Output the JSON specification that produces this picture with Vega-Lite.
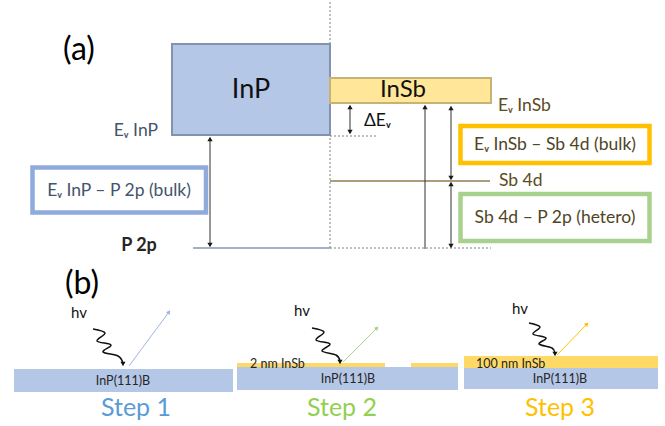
{
  "$schema": "https://vega.github.io/schema/vega-lite/v6.json",
  "width": 665,
  "height": 426,
  "autosize": {"type": "fit", "contains": "padding"},
  "padding": 0,
  "background": "white",
  "config": {"view": {"stroke": null}, "text": {"font": "Lato"}},
  "datasets": {
    "bandInP": [{"x": 172, "x2": 330, "y": 44, "y2": 135}],
    "bandInSb": [{"x": 330, "x2": 491, "y": 78, "y2": 103}],
    "boxBulkInP": [{"x": 32.5, "x2": 206, "y": 167.5, "y2": 212.5}],
    "boxBulkInSb": [{"x": 460.5, "x2": 649.5, "y": 126, "y2": 163}],
    "boxHetero": [{"x": 460.5, "x2": 649.5, "y": 194, "y2": 241}],
    "dotted": [
      {"x": 330, "x2": 330, "y": 2, "y2": 250},
      {"x": 330, "x2": 378, "y": 136, "y2": 136},
      {"x": 330, "x2": 491, "y": 248, "y2": 248}
    ],
    "levelP2p": [{"x": 193, "x2": 330, "y": 248, "y2": 248}],
    "levelSb4d": [{"x": 330, "x2": 490, "y": 181, "y2": 181}],
    "shafts": [
      {"x": 210, "x2": 210, "y": 138, "y2": 246},
      {"x": 350, "x2": 350, "y": 106, "y2": 133},
      {"x": 425, "x2": 425, "y": 106, "y2": 249},
      {"x": 451, "x2": 451, "y": 107, "y2": 179},
      {"x": 451, "x2": 451, "y": 183, "y2": 247}
    ],
    "headsUp": [
      {"x": 210, "y": 139},
      {"x": 350, "y": 107},
      {"x": 425, "y": 107},
      {"x": 451, "y": 108},
      {"x": 451, "y": 184}
    ],
    "headsDown": [
      {"x": 210, "y": 245},
      {"x": 350, "y": 132},
      {"x": 451, "y": 178},
      {"x": 451, "y": 246}
    ],
    "substrate": [
      {"x": 14, "x2": 233, "y": 369, "y2": 392},
      {"x": 237, "x2": 458, "y": 367, "y2": 390},
      {"x": 464, "x2": 658, "y": 368, "y2": 389}
    ],
    "film": [
      {"x": 237, "x2": 385, "y": 363, "y2": 367},
      {"x": 411, "x2": 458, "y": 363, "y2": 367},
      {"x": 464, "x2": 658, "y": 356, "y2": 368}
    ],
    "photon": [
      {"step": "Step 1", "i": 0, "x": 93, "y": 329},
      {"step": "Step 1", "i": 1, "x": 105, "y": 333},
      {"step": "Step 1", "i": 2, "x": 97, "y": 341},
      {"step": "Step 1", "i": 3, "x": 111, "y": 345},
      {"step": "Step 1", "i": 4, "x": 103, "y": 352},
      {"step": "Step 1", "i": 5, "x": 118, "y": 356},
      {"step": "Step 1", "i": 6, "x": 123, "y": 363},
      {"step": "Step 2", "i": 0, "x": 312, "y": 328},
      {"step": "Step 2", "i": 1, "x": 324, "y": 332},
      {"step": "Step 2", "i": 2, "x": 316, "y": 340},
      {"step": "Step 2", "i": 3, "x": 330, "y": 344},
      {"step": "Step 2", "i": 4, "x": 322, "y": 351},
      {"step": "Step 2", "i": 5, "x": 336, "y": 355},
      {"step": "Step 2", "i": 6, "x": 340, "y": 361},
      {"step": "Step 3", "i": 0, "x": 529, "y": 323},
      {"step": "Step 3", "i": 1, "x": 540, "y": 327},
      {"step": "Step 3", "i": 2, "x": 533, "y": 334},
      {"step": "Step 3", "i": 3, "x": 546, "y": 338},
      {"step": "Step 3", "i": 4, "x": 539, "y": 344},
      {"step": "Step 3", "i": 5, "x": 552, "y": 348},
      {"step": "Step 3", "i": 6, "x": 555, "y": 353}
    ],
    "photonTips": [
      {"x": 123, "y": 364},
      {"x": 340, "y": 362},
      {"x": 555, "y": 354}
    ],
    "electron": [
      {"step": "Step 1", "x": 129, "x2": 169, "y": 366, "y2": 312},
      {"step": "Step 2", "x": 343, "x2": 377, "y": 362, "y2": 328},
      {"step": "Step 3", "x": 557, "x2": 587, "y": 355, "y2": 324}
    ],
    "electronTips": [
      {"step": "Step 1", "x": 169, "y": 312, "dir": 36},
      {"step": "Step 2", "x": 377, "y": 328, "dir": 44},
      {"step": "Step 3", "x": 587, "y": 324, "dir": 44}
    ],
    "panelLabels": [
      {"x": 79, "y": 50, "t": "(a)"},
      {"x": 82, "y": 284, "t": "(b)"}
    ],
    "inpLabel": [{"x": 251, "y": 90, "t": "InP"}],
    "insbLabel": [{"x": 403, "y": 90, "t": "InSb"}],
    "evInP": [{"x": 158, "y": 131, "t": "Eᵥ InP"}],
    "bulkInPText": [{"x": 119, "y": 191, "t": "Eᵥ InP – P 2p (bulk)"}],
    "p2pLabel": [{"x": 139, "y": 246, "t": "P 2p"}],
    "deltaEv": [{"x": 364, "y": 121, "t": "ΔEᵥ"}],
    "insbSideLabels": [
      {"x": 498, "y": 106, "t": "Eᵥ InSb"},
      {"x": 499, "y": 181, "t": "Sb 4d"}
    ],
    "boxTexts": [
      {"x": 555, "y": 145, "t": "Eᵥ InSb – Sb 4d (bulk)"},
      {"x": 555, "y": 218, "t": "Sb 4d – P 2p (hetero)"}
    ],
    "hv": [
      {"x": 79, "y": 313, "t": "hv"},
      {"x": 302, "y": 311, "t": "hv"},
      {"x": 520, "y": 309, "t": "hv"}
    ],
    "substrateText": [
      {"x": 123, "y": 381, "t": "InP(111)B"},
      {"x": 348, "y": 379, "t": "InP(111)B"},
      {"x": 560, "y": 379, "t": "InP(111)B"}
    ],
    "filmText": [
      {"x": 250, "y": 364, "t": "2 nm InSb"},
      {"x": 476, "y": 364, "t": "100 nm InSb"}
    ],
    "stepText": [
      {"step": "Step 1", "x": 136, "y": 408, "t": "Step 1"},
      {"step": "Step 2", "x": 342, "y": 408, "t": "Step 2"},
      {"step": "Step 3", "x": 560, "y": 408, "t": "Step 3"}
    ]
  },
  "encoding": {
    "x": {"field": "x", "type": "quantitative", "scale": {"domain": [0, 665], "nice": false, "zero": false}, "axis": null},
    "y": {"field": "y", "type": "quantitative", "scale": {"domain": [0, 426], "reverse": true, "nice": false, "zero": false}, "axis": null}
  },
  "resolve": {"scale": {"color": "independent"}},
  "layer": [
    {"data": {"name": "dotted"}, "mark": {"type": "rule", "color": "#7f7f7f", "strokeWidth": 1, "strokeDash": [2, 2]},
     "encoding": {"x2": {"field": "x2"}, "y2": {"field": "y2"}}},
    {"data": {"name": "levelP2p"}, "mark": {"type": "rule", "color": "#8497b0", "strokeWidth": 1.5},
     "encoding": {"x2": {"field": "x2"}, "y2": {"field": "y2"}}},
    {"data": {"name": "levelSb4d"}, "mark": {"type": "rule", "color": "#a99d7d", "strokeWidth": 2},
     "encoding": {"x2": {"field": "x2"}, "y2": {"field": "y2"}}},
    {"data": {"name": "bandInP"}, "mark": {"type": "rect", "fill": "#b4c7e7", "stroke": "#8393ad", "strokeWidth": 2},
     "encoding": {"x2": {"field": "x2"}, "y2": {"field": "y2"}}},
    {"data": {"name": "bandInSb"}, "mark": {"type": "rect", "fill": "#ffe699", "stroke": "#c6b475", "strokeWidth": 2},
     "encoding": {"x2": {"field": "x2"}, "y2": {"field": "y2"}}},
    {"data": {"name": "boxBulkInP"}, "mark": {"type": "rect", "fill": "white", "stroke": "#8faadc", "strokeWidth": 4.5},
     "encoding": {"x2": {"field": "x2"}, "y2": {"field": "y2"}}},
    {"data": {"name": "boxBulkInSb"}, "mark": {"type": "rect", "fill": "white", "stroke": "#ffc000", "strokeWidth": 4.5},
     "encoding": {"x2": {"field": "x2"}, "y2": {"field": "y2"}}},
    {"data": {"name": "boxHetero"}, "mark": {"type": "rect", "fill": "white", "stroke": "#a9d18e", "strokeWidth": 4.5},
     "encoding": {"x2": {"field": "x2"}, "y2": {"field": "y2"}}},
    {"data": {"name": "shafts"}, "mark": {"type": "rule", "color": "#303030", "strokeWidth": 1},
     "encoding": {"x2": {"field": "x2"}, "y2": {"field": "y2"}}},
    {"data": {"name": "headsUp"}, "mark": {"type": "point", "shape": "triangle-up", "filled": true, "color": "#1a1a1a", "size": 28, "opacity": 1}},
    {"data": {"name": "headsDown"}, "mark": {"type": "point", "shape": "triangle-down", "filled": true, "color": "#1a1a1a", "size": 28, "opacity": 1}},
    {"data": {"name": "substrate"}, "mark": {"type": "rect", "fill": "#b4c7e7"},
     "encoding": {"x2": {"field": "x2"}, "y2": {"field": "y2"}}},
    {"data": {"name": "film"}, "mark": {"type": "rect", "fill": "#ffd966"},
     "encoding": {"x2": {"field": "x2"}, "y2": {"field": "y2"}}},
    {"data": {"name": "photon"}, "mark": {"type": "line", "color": "#111111", "strokeWidth": 1.5, "interpolate": "cardinal"},
     "encoding": {"detail": {"field": "step"}, "order": {"field": "i", "type": "quantitative"}}},
    {"data": {"name": "photonTips"}, "mark": {"type": "point", "shape": "triangle-down", "filled": true, "color": "#111111", "size": 26, "opacity": 1}},
    {"data": {"name": "electron"}, "mark": {"type": "rule", "strokeWidth": 1},
     "encoding": {"x2": {"field": "x2"}, "y2": {"field": "y2"},
       "color": {"field": "step", "type": "nominal", "scale": {"domain": ["Step 1", "Step 2", "Step 3"], "range": ["#9fb6e2", "#a9d18e", "#ffc000"]}, "legend": null}}},
    {"data": {"name": "electronTips"}, "mark": {"type": "point", "shape": "triangle-up", "filled": true, "size": 22, "opacity": 1},
     "encoding": {"angle": {"field": "dir", "type": "quantitative", "scale": null},
       "color": {"field": "step", "type": "nominal", "scale": {"domain": ["Step 1", "Step 2", "Step 3"], "range": ["#9fb6e2", "#a9d18e", "#ffc000"]}, "legend": null}}},
    {"data": {"name": "panelLabels"}, "mark": {"type": "text", "fontSize": 32, "color": "#000000", "baseline": "middle"},
     "encoding": {"text": {"field": "t"}}},
    {"data": {"name": "inpLabel"}, "mark": {"type": "text", "fontSize": 27, "color": "#111111", "baseline": "middle"},
     "encoding": {"text": {"field": "t"}}},
    {"data": {"name": "insbLabel"}, "mark": {"type": "text", "fontSize": 24, "color": "#111111", "baseline": "middle"},
     "encoding": {"text": {"field": "t"}}},
    {"data": {"name": "evInP"}, "mark": {"type": "text", "fontSize": 17.5, "color": "#44546a", "baseline": "middle", "align": "right"},
     "encoding": {"text": {"field": "t"}}},
    {"data": {"name": "bulkInPText"}, "mark": {"type": "text", "fontSize": 17.5, "color": "#44546a", "baseline": "middle"},
     "encoding": {"text": {"field": "t"}}},
    {"data": {"name": "p2pLabel"}, "mark": {"type": "text", "fontSize": 18, "fontWeight": "bold", "color": "#262626", "baseline": "middle"},
     "encoding": {"text": {"field": "t"}}},
    {"data": {"name": "deltaEv"}, "mark": {"type": "text", "fontSize": 17.5, "color": "#111111", "baseline": "middle", "align": "left"},
     "encoding": {"text": {"field": "t"}}},
    {"data": {"name": "insbSideLabels"}, "mark": {"type": "text", "fontSize": 17.5, "color": "#5a4b22", "baseline": "middle", "align": "left"},
     "encoding": {"text": {"field": "t"}}},
    {"data": {"name": "boxTexts"}, "mark": {"type": "text", "fontSize": 17.5, "color": "#4f4524", "baseline": "middle"},
     "encoding": {"text": {"field": "t"}}},
    {"data": {"name": "hv"}, "mark": {"type": "text", "fontSize": 15, "color": "#111111", "baseline": "middle"},
     "encoding": {"text": {"field": "t"}}},
    {"data": {"name": "substrateText"}, "mark": {"type": "text", "fontSize": 12.5, "color": "#262626", "baseline": "middle"},
     "encoding": {"text": {"field": "t"}}},
    {"data": {"name": "filmText"}, "mark": {"type": "text", "fontSize": 12.5, "color": "#262626", "baseline": "middle", "align": "left"},
     "encoding": {"text": {"field": "t"}}},
    {"data": {"name": "stepText"}, "mark": {"type": "text", "fontSize": 25, "baseline": "middle"},
     "encoding": {"text": {"field": "t"},
       "color": {"field": "step", "type": "nominal", "scale": {"domain": ["Step 1", "Step 2", "Step 3"], "range": ["#5b9bd5", "#92d050", "#ffc000"]}, "legend": null}}}
  ]
}
